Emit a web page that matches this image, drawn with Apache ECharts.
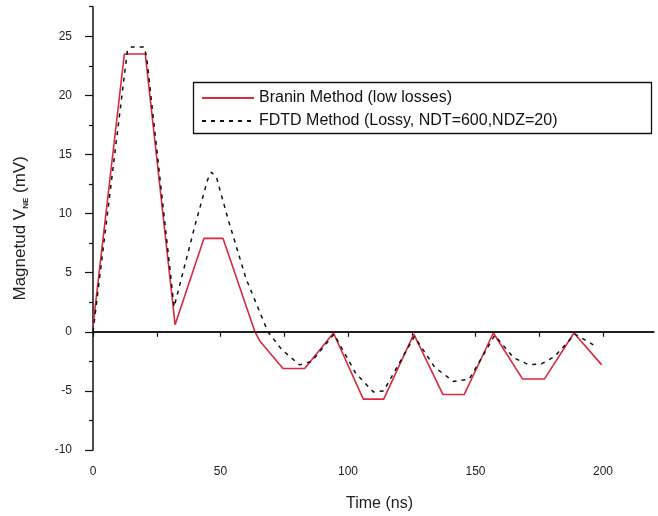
<!DOCTYPE html>
<html>
<head>
<meta charset="utf-8">
<script src="https://cdn.jsdelivr.net/npm/echarts@6/dist/echarts.min.js"></script>
<style>html,body{margin:0;padding:0;background:#fff}#c{width:658px;height:516px}</style>
</head>
<body>
<div id="c"></div>
<script>
// Branin method (low losses): [time ns, mV]
const braninData = [[0,0.5],[12.3,23.5],[20.5,23.5],[32.2,0.6],[43.5,7.9],[51,7.9],[63.5,0],[65.5,-0.8],[74.5,-3.1],[83,-3.1],[94.3,-0.1],[106,-5.7],[114,-5.7],[125.8,-0.2],[137.2,-5.3],[145.6,-5.3],[157,-0.1],[168.5,-4],[177,-4],[188.6,-0.1],[199.5,-2.8]];
// FDTD method (lossy, NDT=600, NDZ=20)
const fdtdData = [[0,0],[13.5,23.8],[15.2,24.1],[20,24.1],[21,23.3],[31.8,2.1],[40,9],[45,12.9],[46.5,13.5],[48.5,13],[53,9.5],[60,4.5],[68.6,0],[74,-1.5],[81,-2.8],[85.8,-2.5],[94.5,-0.2],[103,-3.5],[110,-5.1],[114,-5.0],[126,-0.4],[134,-3],[141.3,-4.2],[147.6,-4.0],[157.5,-0.3],[165,-2.2],[171,-2.8],[176,-2.7],[181,-2.1],[189,-0.2],[196.2,-1.1]];
const seriesNames = ['Branin Method (low losses)', 'FDTD Method (Lossy, NDT=600,NDZ=20)'];
const xTicks = [0,25,50,75,100,125,150,175,200];
const xLabels = [0,50,100,150,200];
const yMajor = [-10,-5,0,5,10,15,20,25];
const yMinor = [-7.5,-2.5,2.5,7.5,12.5,17.5,22.5,27.5];

const FONT = 'Liberation Sans, Arial, sans-serif';
const chart = echarts.init(document.getElementById('c'), null, {renderer:'canvas'});
chart.setOption({
  animation: false,
  backgroundColor: '#fff',
  grid: {left: 93, right: 4, top: 6.7, bottom: 66, containLabel: false, outerBoundsMode: 'none'},
  xAxis: {
    type: 'value', min: 0, max: 220,
    name: 'Time (ns)', nameLocation: 'middle', nameGap: 46,
    nameTextStyle: {fontFamily: FONT, fontSize: 16, color: '#222', padding:[0,0,0,12]},
    axisLine: {show: true, lineStyle: {color: '#111', width: 1.5}},
    axisTick: {show: true, customValues: xTicks, length: 5, inside: false, lineStyle: {color:'#111', width: 1.2}},
    axisLabel: {customValues: xLabels, margin: 16, fontFamily: FONT, fontSize: 12, color: '#222'},
    splitLine: {show: false}
  },
  yAxis: [{
    type: 'value', min: -10, max: 27.5,
    name: '{a|Magnetud V}{s|NE}{a| (mV)}', nameLocation: 'middle', nameGap: 63, nameRotate: 90,
    nameTextStyle: {rich: {
      a: {fontFamily: FONT, fontSize: 17, color: '#222', lineHeight: 20, verticalAlign: 'middle'},
      s: {fontFamily: FONT, fontSize: 8, fontWeight: 'bold', color: '#222', lineHeight: 20, verticalAlign: 'bottom', padding:[11,0,0,0]}
    }},
    axisLine: {show: true, onZero: false, lineStyle: {color: '#111', width: 1.5}},
    axisTick: {show: true, customValues: yMajor, length: 8, lineStyle: {color:'#111', width: 1.2}},
    axisLabel: {customValues: yMajor, margin: 21, fontFamily: FONT, fontSize: 12, color: '#222'},
    splitLine: {show: false}
  }, {
    type: 'value', min: -10, max: 27.5, position: 'left',
    axisLine: {show: false},
    axisTick: {show: true, customValues: yMinor, length: 4, lineStyle: {color:'#111', width: 1.2}},
    axisLabel: {show: false},
    splitLine: {show: false}
  }],
  legend: {
    orient: 'vertical', left: 201, top: 90, itemGap: 7, itemWidth: 52, itemHeight: 16,
    padding: 0,
    itemStyle: {opacity: 0},
    textStyle: {fontFamily: FONT, fontSize: 16, color: '#111'},
    data: seriesNames
  },
  graphic: [{
    type: 'rect', shape: {x: 193.5, y: 82.5, width: 458, height: 51},
    style: {fill: null, stroke: '#111', lineWidth: 1.3}, silent: true, z: 100
  }],
  series: [{
    name: seriesNames[0], type: 'line', data: braninData, symbol: 'none',
    lineStyle: {color: '#d9293b', width: 1.6}, itemStyle: {color: '#d9293b'}, z: 3,
    markLine: {
      silent: true, symbol: 'none', label: {show: false},
      lineStyle: {color: '#111', width: 1.5, type: 'solid'},
      data: [{yAxis: 0}]
    }
  }, {
    name: seriesNames[1], type: 'line', data: fdtdData, symbol: 'none',
    lineStyle: {color: '#111', width: 1.5, type: [4, 5]}, itemStyle: {color: '#111'}, z: 4
  }]
});
</script>
</body>
</html>
